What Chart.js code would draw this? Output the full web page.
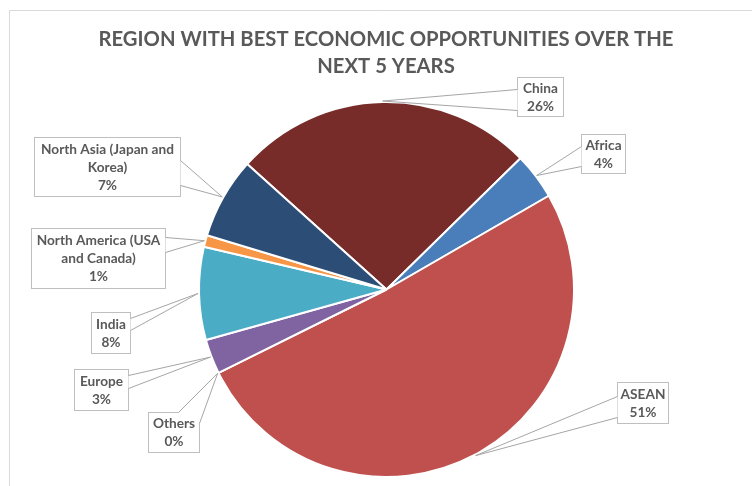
<!DOCTYPE html>
<html>
<head>
<meta charset="utf-8">
<title>Region with best economic opportunities</title>
<script src="https://cdn.jsdelivr.net/npm/chart.js@4"></script>
<style>
  html, body { margin: 0; padding: 0; background: #fff; }
  #wrap { width: 752px; height: 486px; }
</style>
</head>
<body>
<div id="wrap"><canvas id="pieChart" width="752" height="486"></canvas></div>
<script>
// slices go clockwise starting with China
const regions = ['China', 'Africa', 'ASEAN', 'Others', 'Europe', 'India',
    ['North America (USA', 'and Canada)'], ['North Asia (Japan and', 'Korea)']];
const shares = [26, 4, 51, 0, 3, 8, 1, 7];
const sliceColors = ['#772C2A', '#4A7EBB', '#C0504D', '#9BBB59', '#8064A2', '#4BACC6', '#F79646', '#2C4D75'];
const titleLines = ['REGION WITH BEST ECONOMIC OPPORTUNITIES OVER THE', 'NEXT 5 YEARS'];

// label boxes [x, y, w, h] and where the pointer leaves the box
const callouts = [
    { box: [517, 77, 46, 39], base: [[517, 89], [517, 110]] },
    { box: [581, 134, 44, 39], base: [[581, 146], [581, 166]] },
    { box: [617, 382, 51, 41], base: [[617, 396], [617, 417]] },
    { box: [148, 412, 51, 40], base: [[178, 412], [199, 423]] },
    { box: [74, 369, 54, 41], base: [[128, 375], [128, 388]] },
    { box: [91, 312, 39, 41], base: [[130, 318], [130, 330]] },
    { box: [31, 228, 134, 60], base: [[165, 237], [165, 252]] },
    { box: [34, 137, 146, 59], base: [[180, 160], [180, 185]] }
];

const textColor = '#595959';
const fontFamily = 'Lato, "Open Sans", sans-serif';

// squeeze a line horizontally when the face runs wider than the room given
function narrowText(ctx, text, x, y, maxW) {
    const w = ctx.measureText(text).width;
    const sx = Math.min(1, maxW / w);
    ctx.save();
    ctx.translate(x, y);
    ctx.scale(sx, 1);
    ctx.fillText(text, 0, 0);
    ctx.restore();
}

const framePlugin = {
    id: 'frame',
    beforeDraw(chart) {
        const ctx = chart.ctx;
        ctx.save();
        ctx.fillStyle = '#fff';
        ctx.fillRect(0, 0, chart.width, chart.height);
        ctx.strokeStyle = '#D9D9D9';
        ctx.lineWidth = 1;
        ctx.beginPath();
        ctx.moveTo(9.5, chart.height);
        ctx.lineTo(9.5, 10.5);
        ctx.lineTo(chart.width, 10.5);
        ctx.stroke();

        ctx.fillStyle = textColor;
        ctx.font = 'bold 21px ' + fontFamily;
        ctx.textAlign = 'center';
        ctx.textBaseline = 'middle';
        const k = Math.min(1, 575 / ctx.measureText(titleLines[0]).width);
        titleLines.forEach((t, i) => {
            narrowText(ctx, t, 386, 39 + i * 27, ctx.measureText(t).width * k);
        });
        ctx.restore();
    }
};

const calloutPlugin = {
    id: 'callouts',
    afterDatasetsDraw(chart) {
        const ctx = chart.ctx;
        const meta = chart.getDatasetMeta(0);
        ctx.save();
        ctx.font = 'bold 14px ' + fontFamily;
        const k = Math.min(1, 133 / ctx.measureText('North Asia (Japan and').width);
        meta.data.forEach((arc, i) => {
            const p = arc.getProps(['x', 'y', 'startAngle', 'endAngle', 'outerRadius'], true);
            const mid = (p.startAngle + p.endAngle) / 2;
            const ax = p.x + Math.cos(mid) * (p.outerRadius + 1);
            const ay = p.y + Math.sin(mid) * (p.outerRadius + 1);
            const c = callouts[i];
            const [bx, by, bw, bh] = c.box;

            ctx.fillStyle = '#fff';
            ctx.fillRect(bx, by, bw, bh);
            ctx.strokeStyle = '#BFBFBF';
            ctx.lineWidth = 1;
            ctx.strokeRect(bx + 0.5, by + 0.5, bw, bh);

            // pointer wedge
            ctx.beginPath();
            ctx.moveTo(c.base[0][0] + 0.5, c.base[0][1] + 0.5);
            ctx.lineTo(ax, ay);
            ctx.lineTo(c.base[1][0] + 0.5, c.base[1][1] + 0.5);
            ctx.closePath();
            ctx.fill();
            ctx.beginPath();
            ctx.moveTo(c.base[0][0] + 0.5, c.base[0][1] + 0.5);
            ctx.lineTo(ax, ay);
            ctx.lineTo(c.base[1][0] + 0.5, c.base[1][1] + 0.5);
            ctx.strokeStyle = '#A6A6A6';
            ctx.stroke();

            const name = chart.data.labels[i];
            const lines = (Array.isArray(name) ? name.slice() : [name]);
            lines.push(chart.data.datasets[0].data[i] + '%');
            ctx.fillStyle = textColor;
            ctx.textAlign = 'center';
            ctx.textBaseline = 'middle';
            const lh = 18;
            const top = by + bh / 2 - (lines.length - 1) * lh / 2 + 0.5;
            lines.forEach((t, j) => {
                narrowText(ctx, t, bx + bw / 2 + 0.5, top + j * lh, ctx.measureText(t).width * k);
            });
        });
        ctx.restore();
    }
};

const ctx = document.getElementById('pieChart').getContext('2d');
const pieChart = new Chart(ctx, {
    type: 'pie',
    data: {
        labels: regions,
        datasets: [{
            data: shares,
            backgroundColor: sliceColors,
            borderColor: '#fff',
            borderWidth: 2,
            hoverOffset: 0
        }]
    },
    options: {
        responsive: false,
        animation: false,
        rotation: -48,
        layout: { padding: { left: 198, right: 177, top: 101, bottom: 8 } },
        plugins: {
            legend: { display: false },
            title: { display: false },
            tooltip: { enabled: false }
        }
    },
    plugins: [framePlugin, calloutPlugin]
});
</script>
</body>
</html>
